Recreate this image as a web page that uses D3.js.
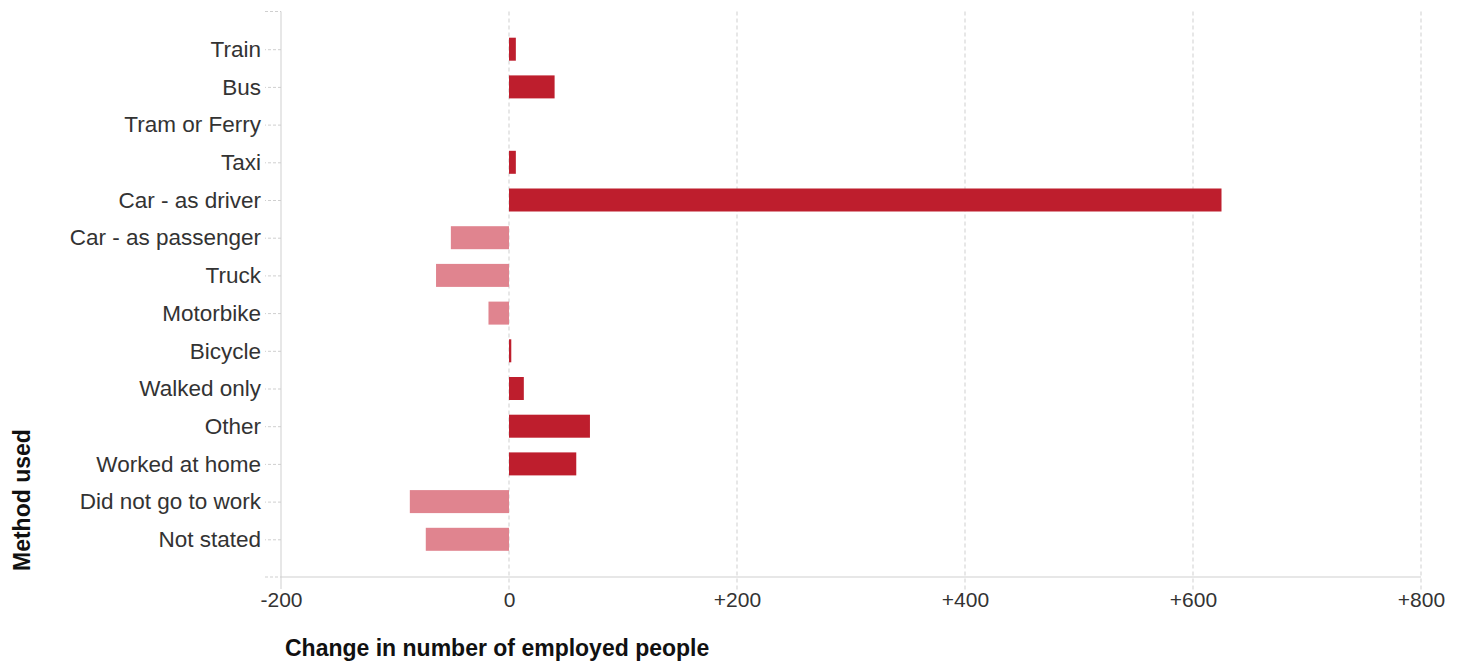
<!DOCTYPE html>
<html><head><meta charset="utf-8">
<script src="https://cdn.jsdelivr.net/npm/d3@7"></script>
<style>body{margin:0;background:#fff;} text{font-family:Arial,"Liberation Sans",sans-serif;}</style>
</head><body>
<svg id="c" width="1459" height="661"></svg>
<script>
const categories = ["Train","Bus","Tram or Ferry","Taxi","Car - as driver","Car - as passenger","Truck","Motorbike","Bicycle","Walked only","Other","Worked at home","Did not go to work","Not stated"];
const values = [6, 40, 0, 6, 625, -51, -64, -18, 2, 13, 71, 59, -87, -73];
const xTicks = [-200, 0, 200, 400, 600, 800];
const xTickLabels = ["-200", "0", "+200", "+400", "+600", "+800"];

const svg = d3.select("#c");
const pL = 281, pR = 1421, pT = 11.5, pB = 577;
const x = d3.scaleLinear().domain([-200, 800]).range([pL, pR]);
const y = d3.scalePoint().domain(categories).range([pT, pB]).padding(1);
const barH = 23;
const grey = "#cfcfcf";
const ff = "Arial, 'Liberation Sans', sans-serif";

// gridlines
svg.append("g").selectAll("line").data(xTicks.slice(1)).join("line")
  .attr("x1", d => x(d)).attr("x2", d => x(d))
  .attr("y1", pT).attr("y2", pB + 14)
  .attr("stroke", grey).attr("stroke-dasharray", "4,3");

// bars
svg.append("g").selectAll("rect").data(categories).join("rect")
  .attr("x", (d, i) => x(Math.min(0, values[i])))
  .attr("width", (d, i) => Math.abs(x(values[i]) - x(0)))
  .attr("y", d => y(d) - barH / 2)
  .attr("height", barH)
  .attr("fill", (d, i) => values[i] >= 0 ? "#be1e2d" : "#e0848f");

// y axis
const yAxis = d3.axisLeft(y).tickSize(16).tickPadding(4);
const gy = svg.append("g").attr("transform", `translate(${pL},0)`).call(yAxis);
gy.select(".domain").remove();
gy.selectAll(".tick line").attr("stroke", grey).attr("stroke-dasharray", "3,2");
gy.selectAll(".tick text").attr("font-size", 22.5).attr("fill", "#333").style("font-family", ff);
[pT, pB].forEach(v => svg.append("line").attr("x1", pL - 16).attr("x2", pL).attr("y1", v).attr("y2", v)
  .attr("stroke", grey).attr("stroke-dasharray", "3,2"));
svg.append("line").attr("x1", pL).attr("x2", pL).attr("y1", pT).attr("y2", pB + 12).attr("stroke", grey);

// x axis
const xAxis = d3.axisBottom(x).tickValues(xTicks).tickFormat((d, i) => xTickLabels[i]).tickSize(0).tickPadding(15);
const gx = svg.append("g").attr("transform", `translate(0,${pB})`).call(xAxis);
gx.select(".domain").remove();
gx.selectAll(".tick text").attr("font-size", 21).attr("fill", "#333").style("font-family", ff);
svg.append("line").attr("x1", pL).attr("x2", pR).attr("y1", pB).attr("y2", pB).attr("stroke", grey);

// titles
svg.append("text").attr("x", 285).attr("y", 656).attr("font-size", 23).attr("font-weight", "bold").attr("fill", "#111")
  .style("font-family", ff).text("Change in number of employed people");
svg.append("text").attr("transform", "translate(30,571) rotate(-90)").attr("font-size", 23).attr("font-weight", "bold").attr("fill", "#111")
  .style("font-family", ff).text("Method used");
</script>
</body></html>
